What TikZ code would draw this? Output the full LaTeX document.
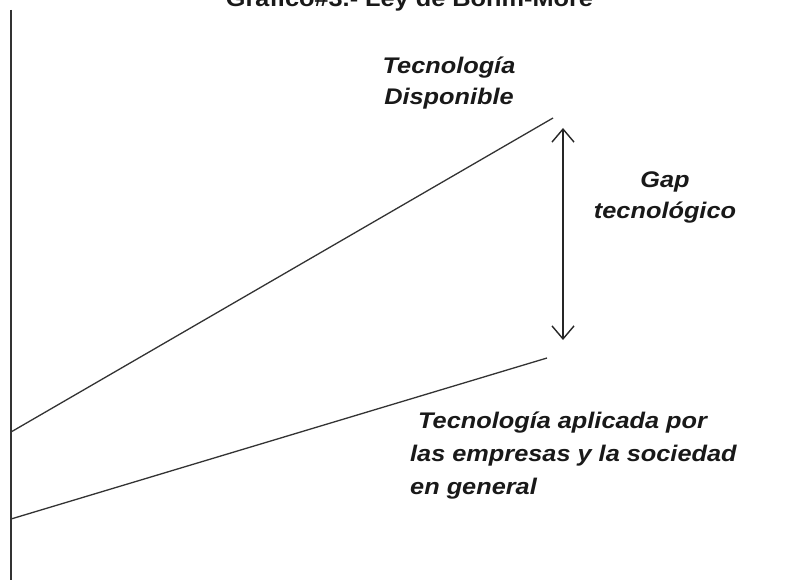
\documentclass[tikz,border=0pt]{standalone}
\usepackage{fontspec}
\setmainfont{Liberation Sans}
\newfontfamily\labfont[FakeStretch=1.12]{Liberation Sans}
\usetikzlibrary{arrows.meta}
\begin{document}
\begin{tikzpicture}[x=1pt,y=-1pt,
  lbl/.style={font=\labfont\bfseries\itshape\fontsize{22.6}{33}\selectfont, inner sep=0pt, text=black!90},
  ttl/.style={font=\labfont\bfseries\fontsize{22.6}{26}\selectfont, inner sep=0pt, text=black!90},
  curve/.style={draw=black!80, line width=1.3pt},
  axisline/.style={draw=black!80, line width=1.7pt},
  gaparrow/.style={draw=black!85, line width=1.4pt, {Straight Barb[length=13pt,width=22pt,line width=1.4pt]}-{Straight Barb[length=13pt,width=22pt,line width=1.4pt]}}
]
\useasboundingbox (0,0) rectangle (797,580);
\clip (0,0) rectangle (797,580);
\fill[white] (0,0) rectangle (797,580);
% title (clipped at top, as in the reference)
\node[ttl, anchor=base] (title) at (409.5,6.5) {Gráfico\#3.- Ley de Bohm-More};
% axis
\coordinate (axtop) at (11,10);
\coordinate (axbot) at (11,585);
\draw[axisline] (axtop) -- (axbot);
% lines
\coordinate (u0) at (11,432);
\coordinate (u1) at (553,118);
\coordinate (l0) at (11,519);
\coordinate (l1) at (547,358);
\draw[curve] (u0) -- (u1);
\draw[curve] (l0) -- (l1);
% gap arrow
\coordinate (gt) at (563,128);
\coordinate (gb) at (563,340);
\draw[gaparrow] (gt) -- (gb);
% labels
\node[lbl, anchor=base] (td1) at (449,74) {Tecnología};
\node[lbl, anchor=base] (td2) at (449,105) {Disponible};
\node[lbl, anchor=base] (g1) at (665,187) {Gap};
\node[lbl, anchor=base] (g2) at (665,218) {tecnológico};
\node[lbl, anchor=base west] (a1) at (418,428) {Tecnología aplicada por};
\node[lbl, anchor=base west] (a2) at (410,461) {las empresas y la sociedad};
\node[lbl, anchor=base west] (a3) at (410,494) {en general};
\end{tikzpicture}
\end{document}
